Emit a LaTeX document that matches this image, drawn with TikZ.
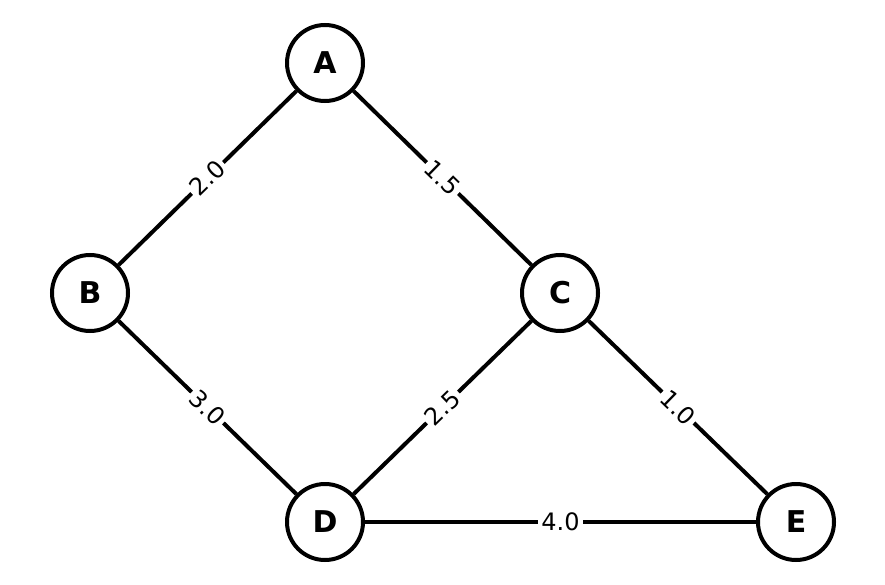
\documentclass[tikz,border=0pt]{standalone}
\usepackage{fontspec}
\setmainfont{DejaVu Sans}
\begin{document}
\begin{tikzpicture}[x=1pt,y=-1pt,
  vert/.style={circle,draw=black,line width=4pt,fill=white,minimum size=76pt,inner sep=0pt,font=\fontsize{30}{30}\selectfont\bfseries},
  edge/.style={line width=4pt},
  lbl/.style={fill=white,inner sep=3pt,font=\fontsize{24}{24}\selectfont,sloped}]
\useasboundingbox (0,0) rectangle (885,585);
\node[vert] (A) at (325,63) {A};
\node[vert] (B) at (90,293) {B};
\node[vert] (C) at (560,293) {C};
\node[vert] (D) at (325,522) {D};
\node[vert] (E) at (796,522) {E};
\draw[edge] (A) -- node[lbl]{2.0} (B);
\draw[edge] (A) -- node[lbl]{1.5} (C);
\draw[edge] (B) -- node[lbl]{3.0} (D);
\draw[edge] (C) -- node[lbl]{2.5} (D);
\draw[edge] (C) -- node[lbl]{1.0} (E);
\draw[edge] (D) -- node[lbl]{4.0} (E);
\end{tikzpicture}
\end{document}
